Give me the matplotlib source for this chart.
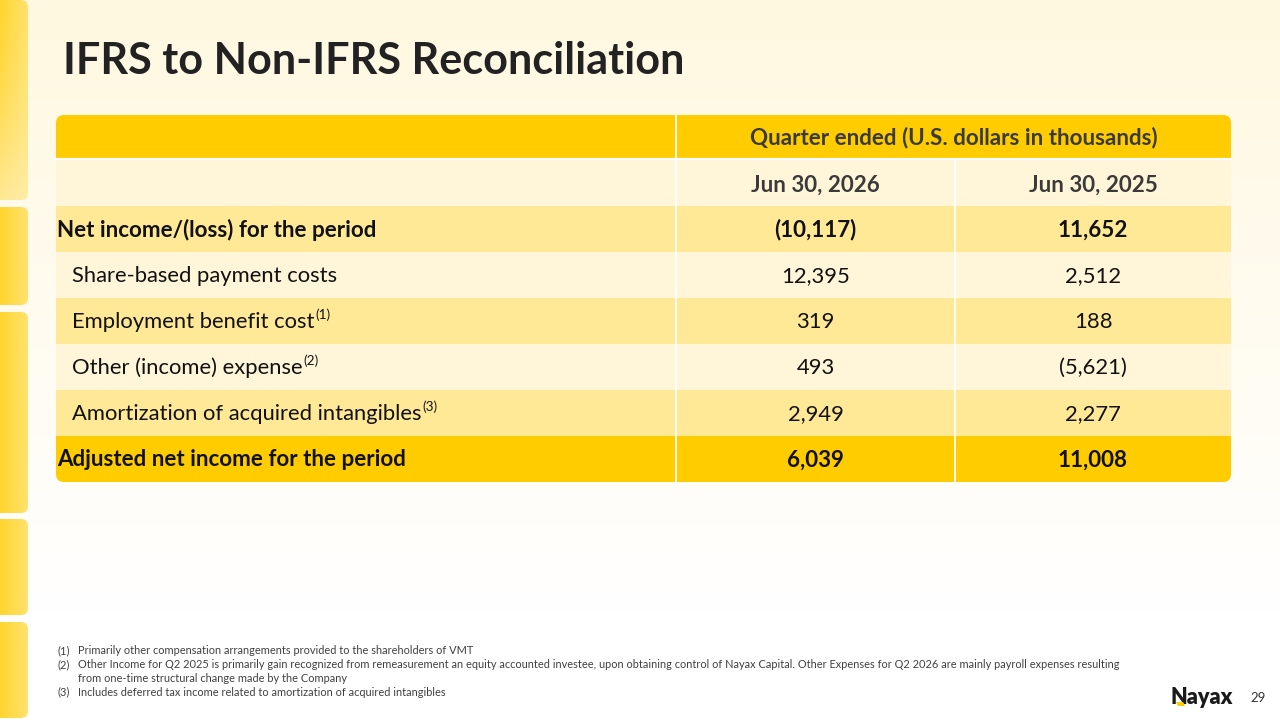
import matplotlib
matplotlib.use("Agg")
import matplotlib.pyplot as plt
from matplotlib.patches import FancyBboxPatch, Rectangle, Polygon
import numpy as np

# ---------------- data ----------------
title = "IFRS to Non-IFRS Reconciliation"
header = "Quarter ended (U.S. dollars in thousands)"
periods = ["Jun 30, 2026", "Jun 30, 2025"]
row_labels = [
    "Net income/(loss) for the period",
    "Share-based payment costs",
    "Employment benefit cost",
    "Other (income) expense",
    "Amortization of acquired intangibles",
    "Adjusted net income for the period",
]
row_notes = ["", "", "(1)", "(2)", "(3)", ""]
row_bold = [True, False, False, False, False, True]
values_2026 = ["(10,117)", "12,395", "319", "493", "2,949", "6,039"]
values_2025 = ["11,652", "2,512", "188", "(5,621)", "2,277", "11,008"]
footnote_marks = ["(1)", "(2)", "", "(3)"]
footnote_lines = [
    "Primarily other compensation arrangements provided to the shareholders of VMT",
    "Other Income for Q2 2025 is primarily gain recognized from remeasurement an equity accounted investee, upon obtaining control of Nayax Capital. Other Expenses for Q2 2026 are mainly payroll expenses resulting",
    "from one-time structural change made by the Company",
    "Includes deferred tax income related to amortization of acquired intangibles",
]
page_number = "29"
brand = "Nayax"

# ---------------- style ----------------
FONT = "Lato"
YELLOW = "#FFCC00"
LIGHT = "#FFF6D9"
MID = "#FFE996"
row_colors = [MID, LIGHT, MID, LIGHT, MID, YELLOW]

fig = plt.figure(figsize=(12.8, 7.2), dpi=100)
ax = fig.add_axes([0, 0, 1, 1])
ax.set_xlim(0, 1280)
ax.set_ylim(720, 0)
ax.axis("off")

# background gradient
t = np.linspace(0, 1, 256)[:, None]
top = np.array([255, 248, 224]) / 255
bot = np.array([255, 255, 255]) / 255
w = np.clip(t / 0.85, 0, 1)
bg = top * (1 - w[..., None]) + bot * w[..., None]
bg = np.repeat(bg, 2, axis=1)
ax.imshow(bg, extent=[0, 1280, 720, 0], aspect="auto", zorder=0, interpolation="bilinear")

# left decorative bars
bars = [(0, 200), (207, 305), (312, 513), (519, 615), (622, 718)]
hx = np.linspace(0, 1, 64)[None, :]
c_left = np.array([255, 204, 0]) / 255
c_right = np.array([255, 226, 110]) / 255
for i, (y0, y1) in enumerate(bars):
    grad = c_left * (1 - hx[..., None]) + c_right * hx[..., None]
    grad = np.repeat(grad, 32, axis=0)
    if i == 0:
        v = np.linspace(0, 1, 32)[:, None, None]
        fade = np.array([255, 240, 190]) / 255
        grad = grad * (1 - 0.7 * v ** 1.5) + fade * 0.7 * v ** 1.5
    clip = FancyBboxPatch((-20, y0), 48, y1 - y0,
                          boxstyle="round,pad=0,rounding_size=7",
                          facecolor="none", edgecolor="none")
    ax.add_patch(clip)
    im = ax.imshow(grad, extent=[-20, 28, y1, y0], aspect="auto", zorder=1,
                   interpolation="bilinear")
    im.set_clip_path(clip)
ax.set_xlim(0, 1280)
ax.set_ylim(720, 0)


def fit(txt, target, renderer):
    bb = txt.get_window_extent(renderer)
    txt.set_fontsize(txt.get_fontsize() * target / bb.width)
    return txt.get_fontsize()


fig.canvas.draw()
r = fig.canvas.get_renderer()

# title
tt = ax.text(63, 61, title, fontsize=30, fontweight="bold", family=FONT,
             color="#222222", va="center", ha="left", zorder=5)
fit(tt, 620, r)

# table geometry
x0, x1, x2, x3 = 56, 676, 955, 1231
y_head0, y_head1 = 115, 158
y_date0, y_date1 = 160, 206
row_h = 46

outline = FancyBboxPatch((x0, y_head0), x3 - x0, (y_date1 + row_h * len(row_labels)) - y_head0,
                         boxstyle="round,pad=0,rounding_size=8",
                         facecolor="none", edgecolor="none")
ax.add_patch(outline)

cells = []
cells.append(Rectangle((x0, y_head0), x3 - x0, y_head1 - y_head0, facecolor=YELLOW, edgecolor="none"))
cells.append(Rectangle((x0, y_date0), x3 - x0, y_date1 - y_date0, facecolor=LIGHT, edgecolor="none"))
for i, c in enumerate(row_colors):
    cells.append(Rectangle((x0, y_date1 + i * row_h), x3 - x0, row_h, facecolor=c, edgecolor="none"))
for c in cells:
    c.set_zorder(2)
    ax.add_patch(c)
    c.set_clip_path(outline)

# white separators
y_end = y_date1 + row_h * len(row_labels)
ln, = ax.plot([x1, x1], [y_head0, y_end], color="white", lw=1.3, zorder=3)
ln.set_clip_path(outline)
ax.plot([x2, x2], [y_date0, y_end], color="white", lw=1.3, zorder=3)
ax.plot([x0, x3], [159, 159], color="white", lw=1.6, zorder=3)

HEAD_C = "#3A3A3A"
BODY_C = "#111111"
cx2 = (x1 + x2) / 2
cx3 = (x2 + x3) / 2

ht = ax.text((x1 + x3) / 2, 138, header, fontsize=14, fontweight="bold", family=FONT,
             color=HEAD_C, ha="center", va="center", zorder=5)
fs_head = fit(ht, 411, r)
for xc, p in zip((cx2, cx3), periods):
    ax.text(xc, 185, p, fontsize=fs_head, fontweight="bold", family=FONT,
            color=HEAD_C, ha="center", va="center", zorder=5)

# body font sizes
probe_b = ax.text(0, -100, row_labels[0], fontsize=14, fontweight="bold", family=FONT)
fs_b = fit(probe_b, 321, r)
probe_b.remove()
probe_r = ax.text(0, -100, row_labels[1], fontsize=14, family=FONT)
fs_r = fit(probe_r, 266, r)
probe_r.remove()

label_objs = []
for i, lab in enumerate(row_labels):
    yc = y_date1 + i * row_h + row_h / 2 + 1
    bold = row_bold[i]
    fs = fs_b if bold else fs_r
    xl = 57 if bold else 72
    t1 = ax.text(xl, yc, lab, fontsize=fs, fontweight="bold" if bold else "normal",
                 family=FONT, color=BODY_C, ha="left", va="center", zorder=5)
    label_objs.append((t1, row_notes[i], yc, fs))
    for xc, val in zip((cx2, cx3), (values_2026[i], values_2025[i])):
        ax.text(xc, yc, val, fontsize=fs, fontweight="bold" if bold else "normal",
                family=FONT, color=BODY_C, ha="center", va="center", zorder=5)

fig.canvas.draw()
r = fig.canvas.get_renderer()
for t1, note, yc, fs in label_objs:
    if note:
        bb = t1.get_window_extent(r)
        ax.text(bb.x1 + 1, yc - 7, note, fontsize=fs * 0.62, family=FONT,
                color=BODY_C, ha="left", va="center", zorder=5)

# footnotes
fy = [651, 665, 678, 692]
fn_c = "#404040"
probe_f = ax.text(0, -100, footnote_lines[1], fontsize=8, family=FONT)
fs_f = fit(probe_f, 1042, r)
probe_f.remove()
for m, line, y in zip(footnote_marks, footnote_lines, fy):
    if m:
        ax.text(57, y, m, fontsize=fs_f, family=FONT, color=fn_c, ha="left", va="center", zorder=5)
    ax.text(78, y, line, fontsize=fs_f, family=FONT, color=fn_c, ha="left", va="center", zorder=5)

# brand + page number
bt = ax.text(1170, 698, brand, fontsize=15, fontweight="heavy", family=FONT,
             color="#1A1A1A", ha="left", va="center", zorder=5)
fit(bt, 63, r)
ax.add_patch(Polygon([[1176, 702], [1183, 702], [1185, 706], [1178, 706]],
                     closed=True, facecolor=YELLOW, edgecolor="none", zorder=6))
ax.text(1250, 698, page_number, fontsize=9.5, family=FONT, color="#333333",
        ha="left", va="center", zorder=5)

fig.savefig("out.png", dpi=100)
